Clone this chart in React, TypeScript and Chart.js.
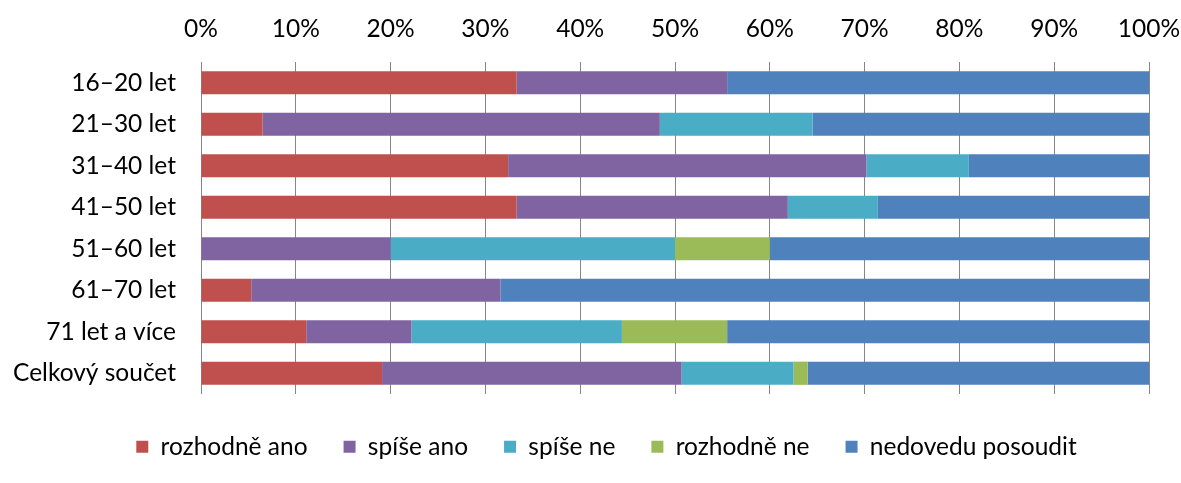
import React, { useEffect, useRef } from "react";
import { Chart, registerables } from "chart.js";

Chart.register(...registerables);

const categories = [
  "16–20 let",
  "21–30 let",
  "31–40 let",
  "41–50 let",
  "51–60 let",
  "61–70 let",
  "71 let a více",
  "Celkový součet",
];
const seriesNames = ["rozhodně ano", "spíše ano", "spíše ne", "rozhodně ne", "nedovedu posoudit"];
const rozhodneAno = [33.3, 6.5, 32.4, 33.3, 0, 5.3, 11.1, 19.1];
const spiseAno = [22.2, 41.9, 37.8, 28.6, 20, 26.3, 11.1, 31.6];
const spiseNe = [0, 16.1, 10.8, 9.5, 30, 0, 22.2, 11.8];
const rozhodneNe = [0, 0, 0, 0, 10, 0, 11.1, 1.5];
const nedovedu = [44.5, 35.5, 19.0, 28.6, 40, 68.4, 44.5, 36.0];
const colors = ["#C0504D", "#8064A2", "#4BACC6", "#9BBB59", "#4F81BD"];

const legendShift = {
  id: "legendShift",
  afterLayout(chart: any) {
    if (chart.legend) chart.legend.left = 64;
  },
};

export default function App() {
  const ref = useRef<HTMLCanvasElement | null>(null);

  useEffect(() => {
    document.body.style.margin = "0";
    const ctx = ref.current!;
    const values = [rozhodneAno, spiseAno, spiseNe, rozhodneNe, nedovedu];
    const font = { family: "Lato", size: 24.5 };
    const chart = new Chart(ctx, {
      type: "bar",
      data: {
        labels: categories,
        datasets: seriesNames.map((name, i) => ({
          label: name,
          data: values[i],
          backgroundColor: colors[i],
          borderWidth: 0,
          categoryPercentage: 1,
          barPercentage: 0.56,
        })),
      },
      plugins: [legendShift],
      options: {
        indexAxis: "y",
        animation: false,
        responsive: false,
        maintainAspectRatio: false,
        layout: { padding: { left: 0, right: 32, top: 0, bottom: 14 } },
        scales: {
          x: {
            position: "top",
            stacked: true,
            min: 0,
            max: 100,
            ticks: {
              stepSize: 10,
              color: "#000",
              font,
              padding: 18,
              callback: (v: any) => v + "%",
            },
            grid: { color: "#868686", lineWidth: 1, drawTicks: false },
            border: { display: false },
            afterFit: (s: any) => {
              s.height = 62;
              s.paddingLeft = 0;
              s.paddingRight = 0;
            },
          },
          y: {
            stacked: true,
            ticks: { color: "#000", font, padding: 25 },
            grid: { display: false, drawTicks: false },
            border: { display: false },
            afterFit: (s: any) => {
              s.width = 201;
              s.paddingTop = 0;
              s.paddingBottom = 0;
            },
          },
        },
        plugins: {
          legend: {
            position: "bottom",
            title: {
              display: true,
              text: "",
              font: { size: 1 },
              padding: { top: 3.3, bottom: 0 },
            },
            labels: {
              color: "#000",
              font,
              boxWidth: 12,
              boxHeight: 12,
              padding: 36,
            },
          },
          tooltip: { enabled: false },
        },
      },
    });
    return () => chart.destroy();
  }, []);

  return (
    <div style={{ width: 1181, height: 483, background: "#fff" }}>
      <canvas ref={ref} width={1181} height={483} style={{ display: "block" }} />
    </div>
  );
}
